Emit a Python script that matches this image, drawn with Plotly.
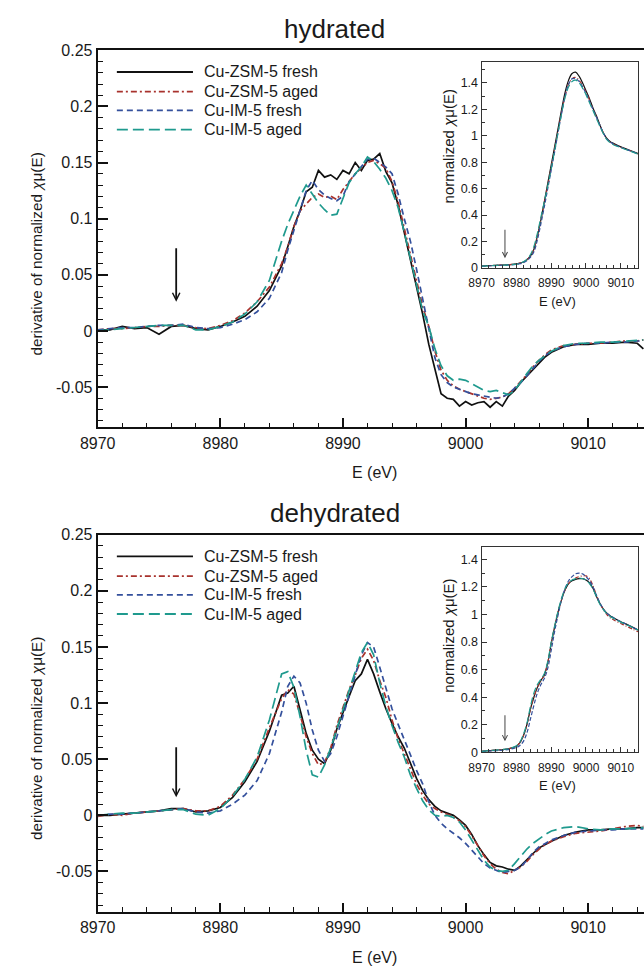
import plotly.graph_objects as go

W, H = 644, 973
FONT = "Liberation Sans, Arial, Helvetica, sans-serif"
TXT = "#1a1a1a"

series_names = ["Cu-ZSM-5 fresh", "Cu-ZSM-5 aged", "Cu-IM-5 fresh", "Cu-IM-5 aged"]
series_colors = ["#111111", "#a8322d", "#34509c", "#1f9a8e"]
series_dashes = ["solid", "6px,3px,2px,3px", "6px,4px", "11px,5px"]
inset_dashes = ["solid", "4px,2px,1px,2px", "4px,2px", "7px,3px"]

# ---------------- main panels: energy grid (eV) ----------------
E_main = [8970, 8971, 8972, 8973, 8974, 8975, 8976, 8977, 8978, 8979,
          8980, 8981, 8982, 8983, 8984, 8985, 8985.5, 8986, 8986.5, 8987,
          8987.5, 8988, 8988.5, 8989, 8989.5, 8990, 8990.5, 8991, 8991.5, 8992,
          8992.5, 8993, 8993.5, 8994, 8994.5, 8995, 8995.5, 8996, 8996.5, 8997,
          8997.5, 8998, 8998.5, 8999, 8999.5, 9000, 9000.5, 9001, 9001.5, 9002,
          9002.5, 9003, 9003.5, 9004, 9004.5, 9005, 9005.5, 9006, 9006.5, 9007,
          9008, 9009, 9010, 9011, 9012, 9013, 9014, 9014.5]

# hydrated: derivative of normalized mu(E)
hyd_zsm_fresh = [0.001, 0.001, 0.004, 0.002, 0.003, -0.003, 0.004, 0.005, 0.002, 0.001,
                 0.004, 0.008, 0.013, 0.022, 0.036, 0.058, 0.075, 0.093, 0.107, 0.124,
                 0.128, 0.143, 0.137, 0.139, 0.135, 0.143, 0.140, 0.150, 0.143, 0.152,
                 0.153, 0.158, 0.142, 0.132, 0.112, 0.088, 0.065, 0.040, 0.015, -0.012,
                 -0.035, -0.056, -0.060, -0.061, -0.067, -0.063, -0.066, -0.064, -0.063, -0.068,
                 -0.063, -0.067, -0.058, -0.053, -0.046, -0.040, -0.034, -0.028, -0.023, -0.019,
                 -0.014, -0.012, -0.012, -0.011, -0.011, -0.010, -0.011, -0.016]
hyd_zsm_aged = [0.001, 0.002, 0.002, 0.003, 0.004, 0.004, 0.005, 0.005, 0.003, 0.002,
                0.005, 0.009, 0.016, 0.026, 0.039, 0.060, 0.075, 0.093, 0.107, 0.113,
                0.119, 0.122, 0.119, 0.120, 0.117, 0.126, 0.133, 0.140, 0.145, 0.150,
                0.152, 0.149, 0.145, 0.133, 0.115, 0.090, 0.068, 0.045, 0.022, 0.004,
                -0.018, -0.035, -0.044, -0.049, -0.052, -0.054, -0.056, -0.058, -0.060, -0.061,
                -0.060, -0.059, -0.056, -0.051, -0.045, -0.039, -0.032, -0.026, -0.021, -0.017,
                -0.013, -0.012, -0.011, -0.011, -0.010, -0.009, -0.009, -0.008]
hyd_im5_fresh = [0.001, 0.002, 0.003, 0.003, 0.004, 0.005, 0.005, 0.006, 0.003, 0.002,
                 0.003, 0.006, 0.010, 0.017, 0.029, 0.052, 0.072, 0.090, 0.107, 0.125,
                 0.134, 0.126, 0.121, 0.118, 0.116, 0.120, 0.133, 0.140, 0.147, 0.153,
                 0.154, 0.150, 0.146, 0.140, 0.122, 0.100, 0.080, 0.055, 0.030, 0.002,
                 -0.024, -0.039, -0.046, -0.050, -0.052, -0.054, -0.056, -0.057, -0.058, -0.059,
                 -0.060, -0.059, -0.056, -0.051, -0.046, -0.040, -0.033, -0.027, -0.022, -0.018,
                 -0.014, -0.012, -0.011, -0.011, -0.010, -0.010, -0.009, -0.009]
hyd_im5_aged = [0.000, 0.001, 0.002, 0.003, 0.004, 0.005, 0.005, 0.005, 0.001, 0.001,
                0.004, 0.008, 0.015, 0.026, 0.045, 0.080, 0.095, 0.107, 0.120, 0.130,
                0.122, 0.114, 0.108, 0.103, 0.104, 0.118, 0.132, 0.140, 0.146, 0.155,
                0.151, 0.144, 0.136, 0.125, 0.110, 0.088, 0.065, 0.040, 0.018, 0.004,
                -0.016, -0.031, -0.040, -0.044, -0.043, -0.044, -0.047, -0.050, -0.053, -0.054,
                -0.053, -0.055, -0.057, -0.053, -0.045, -0.038, -0.031, -0.026, -0.022, -0.018,
                -0.013, -0.011, -0.011, -0.010, -0.010, -0.009, -0.008, -0.008]

# dehydrated: derivative of normalized mu(E)
dehyd_zsm_fresh = [0.000, 0.000, 0.001, 0.002, 0.003, 0.004, 0.006, 0.006, 0.003, 0.004,
                   0.007, 0.016, 0.030, 0.048, 0.075, 0.107, 0.109, 0.115, 0.094, 0.073,
                   0.058, 0.050, 0.046, 0.058, 0.077, 0.092, 0.106, 0.120, 0.126, 0.139,
                   0.126, 0.110, 0.095, 0.082, 0.070, 0.060, 0.046, 0.033, 0.022, 0.014,
                   0.008, 0.004, 0.002, 0.000, -0.004, -0.009, -0.017, -0.027, -0.035, -0.042,
                   -0.045, -0.046, -0.048, -0.049, -0.045, -0.039, -0.034, -0.029, -0.026, -0.023,
                   -0.018, -0.015, -0.013, -0.013, -0.012, -0.012, -0.011, -0.011]
dehyd_zsm_aged = [-0.001, 0.001, 0.000, 0.002, 0.003, 0.004, 0.005, 0.006, 0.004, 0.004,
                  0.008, 0.018, 0.032, 0.050, 0.078, 0.104, 0.112, 0.108, 0.090, 0.070,
                  0.055, 0.045, 0.047, 0.060, 0.080, 0.097, 0.112, 0.125, 0.140, 0.148,
                  0.138, 0.120, 0.105, 0.085, 0.068, 0.055, 0.042, 0.028, 0.018, 0.010,
                  0.006, 0.003, 0.001, -0.001, -0.005, -0.010, -0.018, -0.027, -0.036, -0.043,
                  -0.048, -0.051, -0.052, -0.049, -0.046, -0.041, -0.035, -0.030, -0.026, -0.023,
                  -0.019, -0.016, -0.015, -0.014, -0.012, -0.010, -0.009, -0.010]
dehyd_im5_fresh = [0.000, 0.001, 0.001, 0.002, 0.003, 0.004, 0.005, 0.006, 0.003, 0.002,
                   0.004, 0.010, 0.018, 0.031, 0.055, 0.092, 0.115, 0.124, 0.118, 0.100,
                   0.076, 0.058, 0.048, 0.055, 0.070, 0.088, 0.108, 0.125, 0.143, 0.154,
                   0.150, 0.132, 0.113, 0.095, 0.081, 0.068, 0.054, 0.040, 0.028, 0.012,
                   0.000, -0.007, -0.012, -0.016, -0.020, -0.025, -0.031, -0.037, -0.043, -0.047,
                   -0.049, -0.051, -0.050, -0.049, -0.046, -0.040, -0.033, -0.028, -0.025, -0.022,
                   -0.018, -0.015, -0.014, -0.013, -0.013, -0.012, -0.012, -0.012]
dehyd_im5_aged = [0.000, 0.001, 0.002, 0.002, 0.003, 0.004, 0.005, 0.005, 0.001, 0.000,
                  0.006, 0.017, 0.032, 0.052, 0.085, 0.126, 0.128, 0.114, 0.088, 0.058,
                  0.036, 0.034, 0.045, 0.060, 0.077, 0.095, 0.112, 0.128, 0.145, 0.154,
                  0.143, 0.118, 0.097, 0.080, 0.065, 0.052, 0.036, 0.024, 0.013, 0.005,
                  0.000, -0.001, 0.000, -0.002, -0.006, -0.013, -0.022, -0.031, -0.040, -0.046,
                  -0.049, -0.050, -0.049, -0.043, -0.037, -0.030, -0.025, -0.021, -0.017, -0.014,
                  -0.011, -0.010, -0.012, -0.013, -0.012, -0.012, -0.011, -0.011]

# ---------------- insets: normalized mu(E) ----------------
E_inset = [8970, 8972, 8974, 8976, 8978, 8980, 8981, 8982, 8983, 8984,
           8985, 8986, 8987, 8988, 8989, 8990, 8991, 8992, 8993, 8994,
           8995, 8996, 8997, 8998, 8999, 9000, 9001, 9002, 9003, 9004,
           9005, 9006, 9007, 9008, 9010, 9012, 9015]

hyd_mu_zsm_fresh = [0.015, 0.017, 0.020, 0.022, 0.025, 0.030, 0.036, 0.045, 0.062, 0.090,
                    0.140, 0.240, 0.360, 0.500, 0.640, 0.780, 0.920, 1.060, 1.200, 1.330,
                    1.420, 1.470, 1.480, 1.450, 1.400, 1.340, 1.280, 1.210, 1.150, 1.080,
                    1.020, 0.980, 0.955, 0.940, 0.915, 0.895, 0.865]
hyd_mu_zsm_aged = [0.015, 0.017, 0.020, 0.022, 0.025, 0.030, 0.036, 0.045, 0.062, 0.090,
                   0.140, 0.240, 0.360, 0.490, 0.620, 0.760, 0.900, 1.040, 1.180, 1.300,
                   1.390, 1.430, 1.440, 1.420, 1.380, 1.330, 1.270, 1.200, 1.140, 1.080,
                   1.020, 0.975, 0.950, 0.935, 0.912, 0.893, 0.862]
hyd_mu_im5_fresh = [0.013, 0.015, 0.018, 0.020, 0.022, 0.027, 0.032, 0.040, 0.055, 0.080,
                    0.120, 0.210, 0.330, 0.460, 0.600, 0.740, 0.880, 1.030, 1.170, 1.300,
                    1.390, 1.430, 1.430, 1.410, 1.370, 1.320, 1.260, 1.200, 1.140, 1.080,
                    1.020, 0.975, 0.950, 0.935, 0.912, 0.893, 0.862]
hyd_mu_im5_aged = [0.013, 0.016, 0.019, 0.021, 0.023, 0.029, 0.036, 0.046, 0.065, 0.100,
                   0.160, 0.260, 0.380, 0.500, 0.620, 0.750, 0.890, 1.030, 1.170, 1.290,
                   1.370, 1.410, 1.420, 1.400, 1.360, 1.310, 1.250, 1.190, 1.130, 1.070,
                   1.015, 0.970, 0.945, 0.930, 0.910, 0.890, 0.860]

dehyd_mu_zsm_fresh = [0.007, 0.012, 0.016, 0.020, 0.028, 0.045, 0.070, 0.120, 0.200, 0.310,
                      0.400, 0.470, 0.520, 0.560, 0.650, 0.790, 0.910, 1.020, 1.110, 1.180,
                      1.225, 1.245, 1.255, 1.260, 1.260, 1.250, 1.230, 1.190, 1.130, 1.080,
                      1.040, 1.010, 0.990, 0.975, 0.948, 0.925, 0.888]
dehyd_mu_zsm_aged = [0.007, 0.012, 0.016, 0.020, 0.028, 0.045, 0.070, 0.120, 0.200, 0.310,
                     0.400, 0.470, 0.520, 0.560, 0.650, 0.790, 0.910, 1.020, 1.110, 1.180,
                     1.225, 1.250, 1.265, 1.275, 1.280, 1.280, 1.260, 1.210, 1.140, 1.080,
                     1.035, 1.000, 0.975, 0.960, 0.935, 0.910, 0.875]
dehyd_mu_im5_fresh = [0.005, 0.009, 0.012, 0.016, 0.022, 0.035, 0.050, 0.080, 0.140, 0.240,
                      0.340, 0.430, 0.490, 0.535, 0.610, 0.740, 0.880, 1.000, 1.110, 1.190,
                      1.245, 1.275, 1.295, 1.300, 1.295, 1.275, 1.245, 1.200, 1.140, 1.085,
                      1.040, 1.010, 0.990, 0.975, 0.948, 0.925, 0.888]
dehyd_mu_im5_aged = [0.007, 0.012, 0.016, 0.020, 0.028, 0.048, 0.075, 0.130, 0.210, 0.330,
                     0.430, 0.490, 0.530, 0.570, 0.660, 0.800, 0.920, 1.030, 1.120, 1.190,
                     1.230, 1.250, 1.260, 1.265, 1.260, 1.250, 1.225, 1.185, 1.130, 1.075,
                     1.035, 1.005, 0.985, 0.970, 0.945, 0.922, 0.887]

main_x_ticks = [8970, 8980, 8990, 9000, 9010]
main_y_ticks = [-0.05, 0, 0.05, 0.1, 0.15, 0.2, 0.25]
main_y_labels = ["-0.05", "0", "0.05", "0.1", "0.15", "0.2", "0.25"]
inset_y_ticks = [0, 0.2, 0.4, 0.6, 0.8, 1.0, 1.2, 1.4]
inset_y_labels = ["0", "0.2", "0.4", "0.6", "0.8", "1", "1.2", "1.4"]

panel_titles = ["hydrated", "dehydrated"]
main_ytitle = "derivative of normalized <i>χ</i>μ(E)"
inset_ytitle = "normalized <i>χ</i>μ(E)"
xtitle = "E (eV)"
# pre-edge marker energies (arrows)
arrow_E_main = 8976.4
arrow_E_inset = 8976.7

# ------------------------------------------------------------
def px(x):
    return x / W

def py(y):
    return 1 - y / H

fig = go.Figure()

panels = [
    dict(main=(hyd_zsm_fresh, hyd_zsm_aged, hyd_im5_fresh, hyd_im5_aged),
         inset=(hyd_mu_zsm_fresh, hyd_mu_zsm_aged, hyd_mu_im5_fresh, hyd_mu_im5_aged),
         ax=("x", "y"), iax=("x2", "y2")),
    dict(main=(dehyd_zsm_fresh, dehyd_zsm_aged, dehyd_im5_fresh, dehyd_im5_aged),
         inset=(dehyd_mu_zsm_fresh, dehyd_mu_zsm_aged, dehyd_mu_im5_fresh, dehyd_mu_im5_aged),
         ax=("x3", "y3"), iax=("x4", "y4")),
]

for p in panels:
    for i in range(4):
        fig.add_trace(go.Scatter(x=E_main, y=p["main"][i], mode="lines",
                                 line=dict(color=series_colors[i], width=1.7, dash=series_dashes[i]),
                                 xaxis=p["ax"][0], yaxis=p["ax"][1], showlegend=False,
                                 name=series_names[i]))
    for i in range(4):
        fig.add_trace(go.Scatter(x=E_inset, y=p["inset"][i], mode="lines", line_shape="spline",
                                 line=dict(color=series_colors[i], width=1.2, dash=inset_dashes[i]),
                                 xaxis=p["iax"][0], yaxis=p["iax"][1], showlegend=False,
                                 name=series_names[i]))

off = 492  # vertical offset of lower panel (px)

def main_x(anchor):
    return dict(domain=[px(82), 1.0], range=[8970, 9014.55], anchor=anchor,
                tickmode="array", tickvals=main_x_ticks,
                ticks="inside", ticklen=9, tickwidth=1.5, tickcolor="#111",
                minor=dict(tickmode="linear", tick0=8970, dtick=2, ticks="inside", ticklen=4.5,
                           tickwidth=1.2, tickcolor="#111"),
                showline=True, linewidth=2, linecolor="#111", mirror=True,
                showgrid=False, zeroline=False,
                tickfont=dict(family=FONT, size=16, color=TXT))

def main_y(top_px, bot_px, anchor):
    return dict(domain=[py(bot_px), py(top_px)], range=[-0.086, 0.25], anchor=anchor,
                tickmode="array", tickvals=main_y_ticks, ticktext=main_y_labels,
                ticks="inside", ticklen=10, tickwidth=1.5, tickcolor="#111",
                minor=dict(tickmode="linear", tick0=0, dtick=0.01, ticks="inside", ticklen=5,
                           tickwidth=1.2, tickcolor="#111"),
                showline=True, linewidth=2, linecolor="#111", mirror=False,
                showgrid=False, zeroline=False,
                tickfont=dict(family=FONT, size=16, color=TXT))

def inset_x(anchor):
    return dict(domain=[px(477), px(638)], range=[8970, 9015], anchor=anchor,
                tickmode="array", tickvals=main_x_ticks,
                ticks="inside", ticklen=5, tickwidth=1, tickcolor="#333",
                minor=dict(tickmode="linear", tick0=8970, dtick=2, ticks="inside", ticklen=3,
                           tickwidth=0.8, tickcolor="#333"),
                showline=True, linewidth=1.3, linecolor="#333", mirror=True,
                showgrid=False, zeroline=False, ticklabelstandoff=4,
                tickfont=dict(family=FONT, size=12, color=TXT))

def inset_y(top_px, bot_px, ymax, anchor):
    return dict(domain=[py(bot_px), py(top_px)], range=[0, ymax], anchor=anchor,
                tickmode="array", tickvals=inset_y_ticks, ticktext=inset_y_labels,
                ticks="inside", ticklen=5, tickwidth=1, tickcolor="#333",
                minor=dict(tickmode="linear", tick0=0, dtick=0.1, ticks="inside", ticklen=3,
                           tickwidth=0.8, tickcolor="#333"),
                showline=True, linewidth=1.3, linecolor="#333", mirror=True,
                showgrid=False, zeroline=False,
                tickfont=dict(family=FONT, size=12.5, color=TXT))

fig.update_layout(
    width=W, height=H, margin=dict(l=0, r=0, t=0, b=0),
    paper_bgcolor="white", plot_bgcolor="rgba(0,0,0,0)",
    font=dict(family=FONT, color=TXT),
    xaxis=main_x("y"), yaxis=main_y(43, 426, "x"),
    xaxis2=inset_x("y2"), yaxis2=inset_y(55, 264, 1.556, "x2"),
    xaxis3=main_x("y3"), yaxis3=main_y(43 + off, 426 + off, "x3"),
    xaxis4=inset_x("y4"), yaxis4=inset_y(547, 756, 1.493, "x4"),
)

ann = []
shapes = []
for k in range(2):
    o = off * k
    ann.append(dict(text=panel_titles[k], x=px(326), y=py(21 + o), xref="paper", yref="paper",
                    xanchor="center", yanchor="middle", showarrow=False,
                    font=dict(family=FONT, size=26, color=TXT)))
    ann.append(dict(text=main_ytitle, x=px(19), y=py(250 + o), xref="paper", yref="paper",
                    xanchor="center", yanchor="middle", textangle=-90, showarrow=False,
                    font=dict(family=FONT, size=15.3, color=TXT)))
    ann.append(dict(text=xtitle, x=px(367), y=py(472 + o), xref="paper", yref="paper",
                    xanchor="center", yanchor="middle", showarrow=False,
                    font=dict(family=FONT, size=16, color=TXT)))
    ann.append(dict(text=inset_ytitle, x=px(443), y=py((141 if k == 0 else 146) + o), xref="paper", yref="paper",
                    xanchor="center", yanchor="middle", textangle=-90, showarrow=False,
                    font=dict(family=FONT, size=15, color=TXT)))
    ann.append(dict(text=xtitle, x=px(555), y=py(298 + o), xref="paper", yref="paper",
                    xanchor="center", yanchor="middle", showarrow=False,
                    font=dict(family=FONT, size=13, color=TXT)))
    # legend
    rows = [65, 85, 104, 123.5]
    for i in range(4):
        yy = py(rows[i] + o)
        shapes.append(dict(type="line", xref="paper", yref="paper", x0=px(101.7), x1=px(180),
                           y0=yy, y1=yy, line=dict(color=series_colors[i], width=1.8,
                                                   dash=series_dashes[i])))
        ann.append(dict(text=series_names[i], x=px(189), y=yy, xref="paper", yref="paper",
                        xanchor="left", yanchor="middle", showarrow=False,
                        font=dict(family=FONT, size=16, color=TXT)))

# pre-edge arrows
ann.append(dict(text="", x=arrow_E_main, y=0.026, ax=arrow_E_main, ay=0.075, xref="x", yref="y",
                axref="x", ayref="y", showarrow=True, arrowhead=5, arrowsize=0.8, arrowwidth=1.8,
                arrowcolor="#111"))
ann.append(dict(text="", x=arrow_E_main, y=0.016, ax=arrow_E_main, ay=0.062, xref="x3", yref="y3",
                axref="x3", ayref="y3", showarrow=True, arrowhead=5, arrowsize=0.8, arrowwidth=1.8,
                arrowcolor="#111"))
ann.append(dict(text="", x=arrow_E_inset, y=0.074, ax=arrow_E_inset, ay=0.30, xref="x2", yref="y2",
                axref="x2", ayref="y2", showarrow=True, arrowhead=5, arrowsize=1, arrowwidth=1,
                arrowcolor="#444"))
ann.append(dict(text="", x=arrow_E_inset, y=0.08, ax=arrow_E_inset, ay=0.28, xref="x4", yref="y4",
                axref="x4", ayref="y4", showarrow=True, arrowhead=5, arrowsize=1, arrowwidth=1,
                arrowcolor="#444"))

fig.update_layout(annotations=ann, shapes=shapes)
fig.write_html("out.html")
